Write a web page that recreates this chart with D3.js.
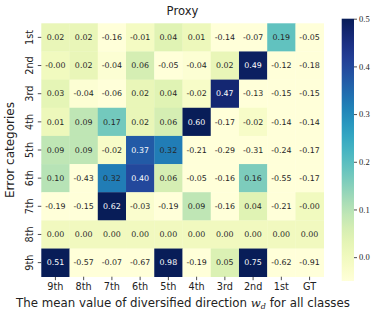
<!DOCTYPE html>
<html>
<meta charset="utf-8">
<script src="https://d3js.org/d3.v7.min.js"></script>
<style>
  body { margin: 0; background: #fff; }
  text { fill: #222; }
</style>
<div id="heatmap_div"></div>
<script>

var rows = ["1st", "2nd", "3rd", "4th", "5th", "6th", "7th", "8th", "9th"]
var cols = ["9th", "8th", "7th", "6th", "5th", "4th", "3rd", "2nd", "1st", "GT"]

// -0.001 = printed as "-0.00" in the picture
var v1st = [0.02, 0.02, -0.16, -0.01, 0.04, 0.01, -0.14, -0.07, 0.19, -0.05]
var v2nd = [-0.001, 0.02, -0.04, 0.06, -0.05, -0.04, 0.02, 0.49, -0.12, -0.18]
var v3rd = [0.03, -0.04, -0.06, 0.02, 0.04, -0.02, 0.47, -0.13, -0.15, -0.15]
var v4th = [0.01, 0.09, 0.17, 0.02, 0.06, 0.60, -0.17, -0.02, -0.14, -0.14]
var v5th = [0.09, 0.09, -0.02, 0.37, 0.32, -0.21, -0.29, -0.31, -0.24, -0.17]
var v6th = [0.10, -0.43, 0.32, 0.40, 0.06, -0.05, -0.16, 0.16, -0.55, -0.17]
var v7th = [-0.19, -0.15, 0.62, -0.03, -0.19, 0.09, -0.16, 0.04, -0.21, -0.001]
var v8th = [0.00, 0.00, 0.00, 0.00, 0.00, 0.00, 0.00, 0.00, 0.00, 0.00]
var v9th = [0.51, -0.57, -0.07, -0.67, 0.98, -0.19, 0.05, 0.75, -0.62, -0.91]
var allRows = [v1st, v2nd, v3rd, v4th, v5th, v6th, v7th, v8th, v9th]

var cbarTicks = [0.0, 0.1, 0.2, 0.3, 0.4, 0.5]

var margin = {top: 23.3, left: 41.3},
  width = 282.4,
  height = 253.4;

var svg = d3.select("#heatmap_div")
.append("svg")
  .attr("width", 381)
  .attr("height", 319)

var g = svg.append("g")
  .attr("transform", "translate(" + margin.left + "," + margin.top + ")");

var data = []
allRows.forEach(function(r, i) {
  r.forEach(function(v, j) {
    data.push({row: rows[i], col: cols[j], value: v})
  })
})

var x = d3.scaleBand().range([0, width]).domain(cols)
var y = d3.scaleBand().range([0, height]).domain(rows)

var color = d3.scaleSequential(d3.interpolateYlGnBu).domain([-0.05, 0.5]).clamp(true)

function fmt(v) {
  var s = Math.abs(v).toFixed(2)
  return (v < 0 ? "-" : "") + s
}

g.selectAll(".cell")
  .data(data)
  .enter()
  .append("rect")
    .attr("x", function(d) { return x(d.col) })
    .attr("y", function(d) { return y(d.row) })
    .attr("width", x.bandwidth() + 0.3)
    .attr("height", y.bandwidth() + 0.3)
    .style("fill", function(d) { return color(d.value) })

g.selectAll(".lbl")
  .data(data)
  .enter()
  .append("text")
    .attr("x", function(d) { return x(d.col) + x.bandwidth() / 2 })
    .attr("y", function(d) { return y(d.row) + y.bandwidth() / 2 })
    .attr("text-anchor", "middle")
    .attr("dy", "0.35em")
    .style("font-family", "DejaVu Sans")
    .style("font-size", "7.9px")
    .style("fill", function(d) {
      var c = d3.rgb(color(d.value))
      var lum = 0.2126 * c.r + 0.7152 * c.g + 0.0722 * c.b
      return lum > 105 ? "#262626" : "#ffffff"
    })
    .text(function(d) { return fmt(d.value) })

// axes
var xAxis = g.append("g")
  .attr("transform", "translate(0," + height + ")")
  .call(d3.axisBottom(x).tickSize(3.5).tickPadding(3.3))
var yAxis = g.append("g")
  .call(d3.axisLeft(y).tickSize(3.5).tickPadding(2))

xAxis.select(".domain").remove()
yAxis.select(".domain").remove()
xAxis.selectAll("text").style("font-family", "DejaVu Sans").style("font-size", "9.7px").style("fill", "#222")
yAxis.selectAll(".tick text")
  .style("font-family", "DejaVu Sans").style("font-size", "9.7px").style("fill", "#222")
  .attr("text-anchor", "middle")
  .attr("x", 0).attr("y", 0).attr("dy", "0.35em")
  .attr("transform", "translate(-11.8,0) rotate(-90)")
xAxis.selectAll("line").style("stroke", "#222").style("stroke-width", 0.8)
yAxis.selectAll("line").style("stroke", "#222").style("stroke-width", 0.8)

// title and labels
svg.append("text")
  .attr("x", margin.left + width / 2).attr("y", 14.5)
  .attr("text-anchor", "middle")
  .style("font-family", "DejaVu Sans").style("font-size", "11.6px")
  .text("Proxy")

svg.append("text")
  .attr("transform", "translate(14," + (margin.top + height / 2) + ") rotate(-90)")
  .attr("text-anchor", "middle")
  .style("font-family", "DejaVu Sans").style("font-size", "12px")
  .text("Error categories")

var xl = svg.append("text")
  .attr("x", 183).attr("y", 306.5)
  .attr("text-anchor", "middle")
  .style("font-family", "DejaVu Sans").style("font-size", "11.8px")
xl.append("tspan").text("The mean value of diversified direction ")
xl.append("tspan").style("font-family", "DejaVu Serif").style("font-style", "italic").text("w")
xl.append("tspan").style("font-family", "DejaVu Serif").style("font-style", "italic").style("font-size", "8px").attr("dy", 2.5).text("d")
xl.append("tspan").attr("dy", -2.5).text(" for all classes")

// colorbar
var cb = {x: 341.7, y0: 18.7, y1: 281, w: 12.3}
var cscale = d3.scaleLinear().domain([-0.05, 0.5]).range([cb.y1, cb.y0])
var defs = svg.append("defs")
var grad = defs.append("linearGradient").attr("id", "cbgrad")
  .attr("x1", 0).attr("y1", 1).attr("x2", 0).attr("y2", 0)
d3.range(0, 1.0001, 0.05).forEach(function(t) {
  grad.append("stop").attr("offset", t).attr("stop-color", color(-0.05 + t * 0.55))
})
svg.append("rect")
  .attr("x", cb.x).attr("y", cb.y0).attr("width", cb.w).attr("height", cb.y1 - cb.y0)
  .style("fill", "url(#cbgrad)")

var cAxis = svg.append("g")
  .attr("transform", "translate(" + (cb.x + cb.w) + ",0)")
  .call(d3.axisRight(cscale).tickValues(cbarTicks).tickFormat(d3.format(".1f")).tickSize(3).tickPadding(2))
cAxis.select(".domain").remove()
cAxis.selectAll("line").style("stroke", "#222").style("stroke-width", 0.8)
cAxis.selectAll("text").style("font-family", "Liberation Serif").style("font-size", "8.5px").style("fill", "#222")

</script>
</html>
